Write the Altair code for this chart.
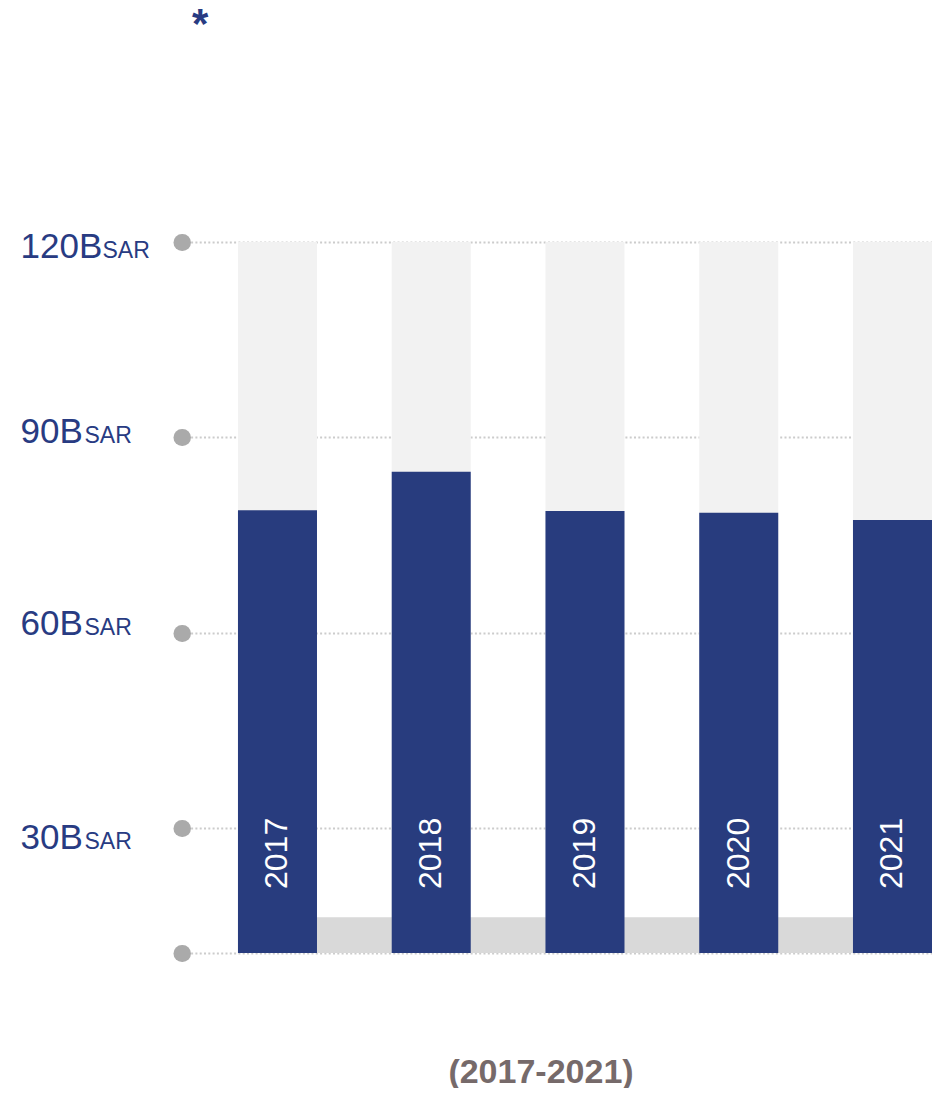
import altair as alt
import pandas as pd

# ---- data ----
years = ["2017", "2018", "2019", "2020", "2021"]
values = [78.8, 84.7, 78.7, 78.4, 77.3]          # billions SAR
cap = [120, 120, 120, 120, 120]                   # light background bars
base_value = 10.8                                 # bottom of the value axis
strip_top = 16.3                                  # top of the grey base strip
tick_values = [10.8, 30, 60, 90, 120]
unit_values = [30, 60, 90, 120]
unit_text = "SAR"
period_label = "(2017-2021)"
title_text = "*"

NAVY = "#283c7e"
LABEL = "#283b82"
FONT = "Liberation Sans"

df = pd.DataFrame({
    "year": years,
    "value": values,
    "cap": cap,
    "base": [base_value] * len(years),
})
strip_df = pd.DataFrame({
    "start": [years[0]],
    "end": [years[-1]],
    "lo": [base_value],
    "hi": [strip_top],
})

xs = alt.Scale(paddingInner=0.486, paddingOuter=0.182, align=1)
ys = alt.Scale(domain=[base_value, 120], zero=False, nice=False)

label_offset = {
    "condition": [
        {"test": "datum.value == 120", "value": 15},
        {"test": "datum.value == 90", "value": 5},
        {"test": "datum.value == 60", "value": 2},
    ],
    "value": 21,
}

x_axis = alt.Axis(
    labels=False, ticks=False, domain=False, grid=False,
    title=period_label, titleFont=FONT, titleFontSize=34, titleFontWeight="bold",
    titleColor="#766a6a", titleX=358.5, titleY=129, titleBaseline="alphabetic",
    titleAlign="center", titleAngle=0,
)

num_axis = alt.Axis(
    orient="left", values=tick_values,
    labelExpr="datum.value < 20 ? '' : datum.value + 'B'",
    labelAlign="left", labelBaseline="alphabetic", labelPadding=161.5,
    labelOffset=label_offset, labelFontSize=35, labelFont=FONT, labelColor=LABEL,
    tickSize=0.5, tickWidth=17, tickCap="round", tickColor="#aaaaaa",
    domain=False, grid=True, gridColor="#cccccc", gridDash=[2, 2.3], gridWidth=2,
    title=None,
)

sar_axis = alt.Axis(
    orient="left", values=unit_values,
    labelExpr="'" + unit_text + "'",
    labelAlign="left", labelBaseline="alphabetic",
    labelPadding={"condition": {"test": "datum.value == 120", "value": 80}, "value": 98},
    labelOffset=label_offset, labelFontSize=23, labelFont=FONT, labelColor=LABEL,
    ticks=False, tickSize=0, domain=False, grid=False, title=None,
)

bg = alt.Chart(df).mark_bar(color="#f2f2f2").encode(
    x=alt.X("year:N", scale=xs, axis=x_axis),
    y=alt.Y("cap:Q", scale=ys, axis=num_axis),
    y2="base:Q",
)

strip = alt.Chart(strip_df).mark_rect(color="#d9d9d9").encode(
    x=alt.X("start:N", scale=xs, axis=x_axis, bandPosition=0),
    x2=alt.X2("end:N", bandPosition=1),
    y=alt.Y("hi:Q", scale=ys, axis=None),
    y2="lo:Q",
)

bars = alt.Chart(df).mark_bar(color=NAVY).encode(
    x=alt.X("year:N", scale=xs, axis=x_axis),
    y=alt.Y("value:Q", scale=ys, axis=sar_axis),
    y2="base:Q",
)

labels = alt.Chart(df).mark_text(
    color="white", angle=270, align="left", baseline="middle",
    dx=64, fontSize=32, font=FONT,
).encode(
    x=alt.X("year:N", scale=xs, axis=x_axis),
    y=alt.Y("base:Q", scale=ys, axis=None),
    text="year:N",
)

chart = (
    alt.layer(bg, strip, bars, labels)
    .resolve_scale(y="shared")
    .resolve_axis(y="independent")
    .properties(
        width=750,
        height=711,
        padding={"left": 174, "top": 234, "right": 0, "bottom": 135},
        autosize=alt.AutoSizeParams(type="none"),
        title=alt.TitleParams(
            text=title_text, anchor="start", frame="group", fontSize=42,
            fontWeight="bold", color=LABEL, font=FONT, dx=10, offset=149,
            baseline="alphabetic",
        ),
    )
    .configure_view(strokeWidth=0)
)

chart.save("out.html", embed_options={"renderer": "svg", "actions": False})
